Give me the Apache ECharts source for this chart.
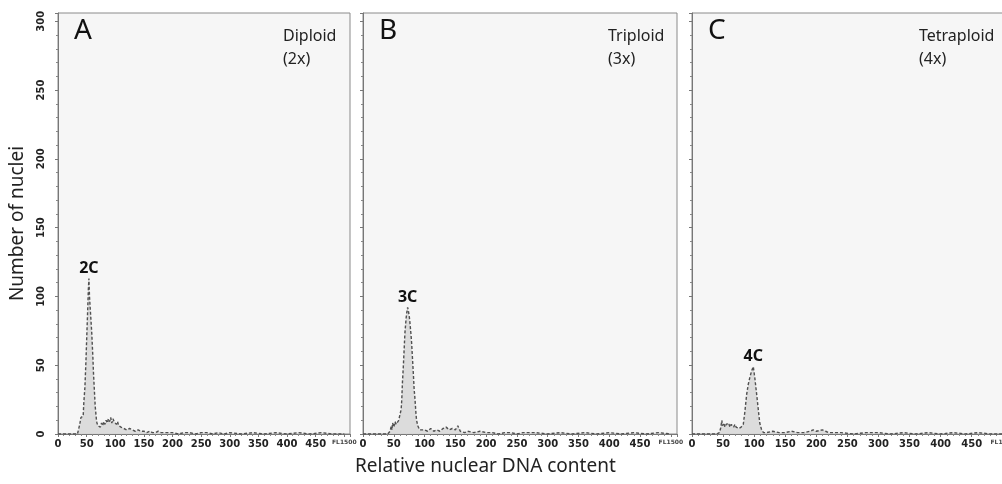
<!DOCTYPE html>
<html>
<head>
<meta charset="utf-8">
<script src="https://cdn.jsdelivr.net/npm/echarts@6/dist/echarts.min.js"></script>
<style>
  html, body { margin: 0; padding: 0; background: #fff; }
  #chart { width: 1002px; height: 484px; }
</style>
</head>
<body>
<div id="chart"></div>
<script>
// histogram outlines, [channel, count]
var histA = [[0,0],[20,0],[34,0],[37,1],[38,7],[40,12],[42,11],[44,13],[45,22],[47,34],[49,55],[50,68],[52,92],[53,105],[54,113],[55,100],[56,93],[58,80],[59,73],[61,55],[62,44],[64,28],[65,20],[67,11],[68,8],[70,6],[72,7],[74,5],[76,8],[78,6],[80,9],[82,7],[84,10],[86,8],[88,11],[90,9],[92,12],[94,8],[96,11],[98,9],[100,10],[102,7],[104,9],[106,6],[108,7],[110,5],[112,6],[115,4],[118,5],[120,3],[125,4],[130,3],[135,2],[140,3],[145,2],[150,2],[155,1],[160,2],[165,1],[170,1],[175,2],[180,1],[190,1],[200,1],[210,0],[220,1],[230,1],[240,0],[250,1],[260,1],[270,0],[280,1],[290,0],[300,1],[320,0],[340,1],[360,0],[380,1],[400,0],[420,1],[440,0],[460,1],[480,0],[500,0]];
var histB = [[0,0],[40,0],[44,2],[46,6],[47,3],[48,8],[50,5],[52,9],[54,7],[56,8],[58,10],[60,10],[62,18],[63,25],[64,37],[65.5,49],[67,63],[68,73],[70,84],[71,88],[72.5,92],[73.5,90],[75,86],[76,82],[78,72],[79,66],[80.5,54],[82,42],[83,33],[84.5,25],[86,15],[87,10],[89,6],[92,3],[95,2],[100,3],[105,2],[110,4],[115,2],[120,3],[125,2],[130,4],[135,5],[140,3],[145,4],[150,3],[154,6],[158,2],[165,1],[170,2],[180,1],[190,2],[200,1],[210,1],[220,0],[230,1],[240,1],[250,0],[260,1],[280,1],[300,0],[320,1],[340,0],[360,1],[380,0],[400,1],[420,0],[440,1],[460,0],[480,1],[500,0]];
var histC = [[0,0],[40,0],[44,1],[46,4],[48,10],[49,6],[51,8],[53,5],[55,7],[57,6],[59,8],[61,5],[63,7],[65,6],[67,5],[69,7],[71,5],[73,6],[75,4],[77,5],[79,5],[81,6],[82.5,7],[85,16],[88,29],[90.5,36],[93,41],[96,46],[98.6,49],[101,41],[104,29],[106.6,18],[109,8],[112,3],[115,1],[120,1],[130,2],[140,1],[150,1],[160,2],[170,1],[180,1],[190,2],[195,3],[200,2],[210,3],[215,2],[220,1],[240,1],[260,0],[280,1],[300,1],[320,0],[340,1],[360,0],[380,1],[400,0],[420,1],[440,0],[460,1],[480,0],[500,0]];

var peakNames = ['2C', '3C', '4C'];
var panelLetters = ['A', 'B', 'C'];
var ploidyNames = ['Diploid', 'Triploid', 'Tetraploid'];
var ploidyLevels = ['(2x)', '(3x)', '(4x)'];

var grids = [
  { left: 58, top: 13, width: 292, height: 421 },
  { left: 363, top: 13, width: 314, height: 421 },
  { left: 692, top: 13, width: 317, height: 421 }
];

var tickFont = { fontFamily: 'DejaVu Sans', fontWeight: 'bold', fontSize: 10, color: '#222' };

function mkSeries(hist, i) {
  var top = 0;
  for (var k = 1; k < hist.length; k++) {
    if (hist[k][1] > hist[top][1]) top = k;
  }
  var data = hist.map(function (p, k) {
    if (k !== top) return p;
    return {
      value: p,
      label: {
        show: true, position: 'top', distance: 2,
        formatter: peakNames[i],
        fontFamily: 'Noto Sans', fontWeight: 'bold', fontSize: 16, color: '#111'
      }
    };
  });
  return {
    type: 'line',
    xAxisIndex: i,
    yAxisIndex: i,
    data: data,
    symbol: 'circle',
    symbolSize: 0,
    showSymbol: true,
    showAllSymbol: true,
    silent: true,
    lineStyle: { color: '#505050', width: 1.4, type: [3, 2] },
    areaStyle: { color: '#d9d9d9', opacity: 0.9 }
  };
}

var xAxes = [], yAxes = [], graphics = [];
for (var i = 0; i < 3; i++) {
  xAxes.push({
    gridIndex: i, type: 'value', min: 0, max: 510, interval: 50,
    axisLine: { lineStyle: { color: '#777' } },
    axisTick: { length: 3, lineStyle: { color: '#777' } },
    minorTick: { show: true, splitNumber: 5, length: 2, lineStyle: { color: '#888' } },
    splitLine: { show: false },
    axisLabel: Object.assign({
      margin: 5,
      formatter: function (v) {
        if (v === 500) return '{s|FL1500}';
        if (v > 500) return '';
        return v;
      },
      rich: { s: { fontFamily: 'DejaVu Sans', fontSize: 6, color: '#444' } }
    }, tickFont)
  });
  yAxes.push({
    gridIndex: i, type: 'value', min: 0, max: 306, interval: 50,
    name: i === 0 ? 'Number of nuclei' : '',
    nameLocation: 'middle', nameGap: 31,
    nameTextStyle: { fontFamily: 'Noto Sans', fontSize: 19, color: '#222' },
    axisLine: { show: true, lineStyle: { color: '#777' } },
    axisTick: { show: true, length: 3, lineStyle: { color: '#777' } },
    minorTick: { show: true, splitNumber: 5, length: 2, lineStyle: { color: '#888' } },
    splitLine: { show: false },
    axisLabel: Object.assign({
      show: i === 0, rotate: 90, margin: 12,
      formatter: function (v) { return v % 50 === 0 ? v : ''; }
    }, tickFont)
  });
  graphics.push({
    type: 'text', left: grids[i].left + 16, top: 17,
    style: { text: panelLetters[i], font: '28px "Noto Sans"', fill: '#111' }
  });
  graphics.push({
    type: 'text', left: [283, 608, 919][i], top: 25,
    style: { text: ploidyNames[i] + '\n' + ploidyLevels[i], font: '16px "Noto Sans"', fill: '#222', lineHeight: 23 }
  });
}

graphics.push({
  type: 'text', left: 355, top: 457,
  style: { text: 'Relative nuclear DNA content', font: '19px "Noto Sans"', fill: '#222' }
});

var chart = echarts.init(document.getElementById('chart'));
chart.setOption({
  backgroundColor: '#ffffff',
  animation: false,
  grid: grids.map(function (g) {
    return Object.assign({
      show: true, backgroundColor: '#f6f6f6', borderColor: '#8a8a8a', borderWidth: 1,
      outerBoundsMode: 'none', containLabel: false
    }, g);
  }),
  xAxis: xAxes,
  yAxis: yAxes,
  series: [mkSeries(histA, 0), mkSeries(histB, 1), mkSeries(histC, 2)],
  graphic: graphics
});
</script>
</body>
</html>
